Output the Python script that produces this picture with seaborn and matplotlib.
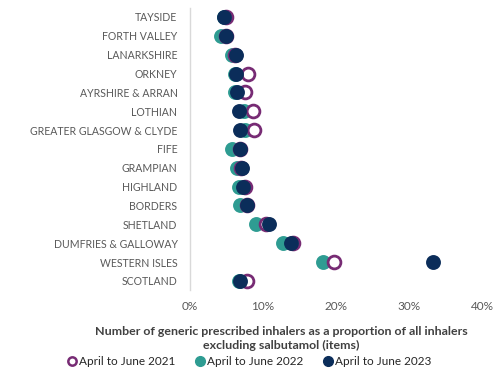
import numpy as np
import pandas as pd
import matplotlib
matplotlib.use("Agg")
import matplotlib.pyplot as plt
import seaborn as sns
from matplotlib.ticker import FuncFormatter
from matplotlib.lines import Line2D

boards = ["TAYSIDE", "FORTH VALLEY", "LANARKSHIRE", "ORKNEY", "AYRSHIRE & ARRAN",
          "LOTHIAN", "GREATER GLASGOW & CLYDE", "FIFE", "GRAMPIAN", "HIGHLAND",
          "BORDERS", "SHETLAND", "DUMFRIES & GALLOWAY", "WESTERN ISLES", "SCOTLAND"]
pct_2021 = [4.9, 4.9, 6.2, 7.9, 7.6, 8.6, 8.8, 6.8, 7.0, 7.5, 7.8, 10.4, 14.1, 19.7, 7.85]
pct_2022 = [4.6, 4.3, 5.8, 6.2, 6.1, 7.4, 7.6, 5.8, 6.5, 6.7, 6.85, 9.1, 12.8, 18.2, 6.7]
pct_2023 = [4.7, 4.9, 6.3, 6.3, 6.5, 6.7, 6.9, 6.9, 7.1, 7.3, 7.85, 10.8, 13.8, 33.3, 6.9]
periods = ["April to June 2021", "April to June 2022", "April to June 2023"]

df = pd.DataFrame({"board": boards * 3,
                   "pct": pct_2021 + pct_2022 + pct_2023,
                   "period": np.repeat(periods, len(boards))})

purple = "#772B74"
teal = "#2E9C92"
navy = "#0B2D5A"

sns.set_theme(style="white")
plt.rcParams["font.family"] = ["Lato", "DejaVu Sans"]

fig = plt.figure(figsize=(5, 3.77), dpi=100)
ax = fig.add_axes([0.38, 0.23, 0.584, 0.75])

# draw order: 2022 underneath, then 2021 rings, then 2023 on top
sns.scatterplot(data=df[df.period == periods[1]], x="pct", y="board", ax=ax,
                color=teal, s=115, linewidth=0, zorder=2)
sns.scatterplot(data=df[df.period == periods[0]], x="pct", y="board", ax=ax,
                facecolor="white", edgecolor=purple, s=85, linewidth=2, zorder=3)
sns.scatterplot(data=df[df.period == periods[2]], x="pct", y="board", ax=ax,
                color=navy, s=115, linewidth=0, zorder=4)

ax.set_xlim(0, 40)
ax.set_xticks([0, 10, 20, 30, 40])
ax.xaxis.set_major_formatter(FuncFormatter(lambda v, p: f"{v:.0f}%"))
ax.set_ylim(len(boards) - 0.5, -0.5)
ax.set_xlabel("")
ax.set_ylabel("")
ax.tick_params(axis="both", length=0, labelcolor="#595959")
ax.tick_params(axis="y", pad=9, labelsize=7.6)
ax.tick_params(axis="x", pad=8, labelsize=8.5)
for side in ["top", "right", "bottom"]:
    ax.spines[side].set_visible(False)
ax.spines["left"].set_color("#D9D9D9")
ax.spines["left"].set_linewidth(1)

fig.text(0.562, 0.102, "Number of generic prescribed inhalers as a proportion of all inhalers\nexcluding salbutamol (items)",
         ha="center", va="center", fontsize=8.9, fontweight="bold", color="#404040", linespacing=1.35)

handles = [
    Line2D([], [], marker="o", linestyle="", markerfacecolor="white", markeredgecolor=purple,
           markeredgewidth=1.8, markersize=6),
    Line2D([], [], marker="o", linestyle="", color=teal, markersize=7),
    Line2D([], [], marker="o", linestyle="", color=navy, markersize=7),
]
fig.legend(handles, periods, loc="center", bbox_to_anchor=(0.498, 0.04), ncol=3, frameon=False,
           fontsize=8.5, handletextpad=0.1, columnspacing=1.6, labelcolor="#262626",
           handlelength=1)

fig.savefig("out.png", dpi=100)
